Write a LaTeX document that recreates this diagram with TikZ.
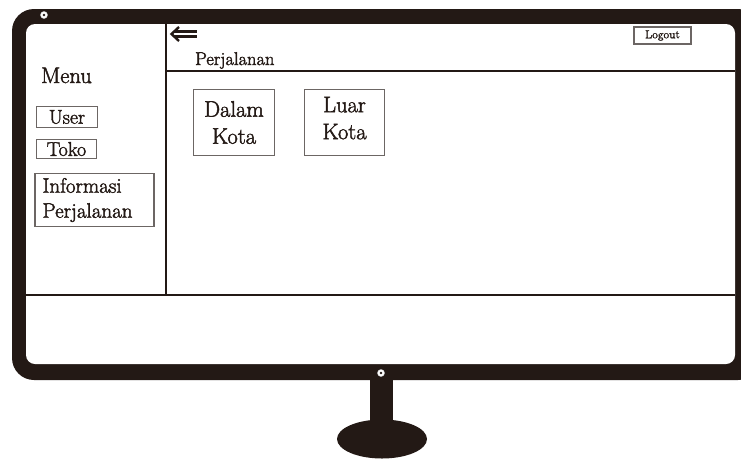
\documentclass[tikz,border=0pt]{standalone}
\usepackage{fontspec}
\setmainfont{Latin Modern Roman}[RawFeature={embolden=1.9}]
\usetikzlibrary{calc}
\definecolor{frame}{HTML}{231915}
\definecolor{boxline}{HTML}{6C6664}
\begin{document}
\begin{tikzpicture}[x=1pt,y=-1pt,
  lbl/.style={text=frame, inner sep=0pt},
  itembox/.style={draw=boxline, line width=1.3pt, text=frame, inner sep=0pt, align=center},
  panel/.style={draw=frame, line width=2pt},
  screw/.style={fill=white, draw=gray!60, line width=0.4pt},
]
\useasboundingbox (0,0) rectangle (741,459);

% monitor bezel (runs past the right edge)
\begin{scope}
  \clip (0,0) rectangle (741,459);
  \fill[frame, rounded corners=22pt] (12,9) rectangle (760,380);
  \fill[white, rounded corners=9pt] (26,24) rectangle (735,364);
\end{scope}

% stand
\fill[frame] (370,378) rectangle (393,426);
\fill[frame] (382,439) ellipse [x radius=45pt, y radius=19.5pt];

% screws
\filldraw[screw] (44,15) circle [radius=3.6pt];
\fill[frame] (44,15) circle [radius=1.3pt];
\filldraw[screw] (381,373) circle [radius=3.6pt];
\fill[frame] (381,373) circle [radius=1.3pt];

% screen layout
\coordinate (sideTop) at (166,24);
\coordinate (sideBot) at (166,295);
\coordinate (headL) at (166,71);
\coordinate (headR) at (735,71);
\coordinate (footL) at (26,295);
\coordinate (footR) at (735,295);
\draw[panel] (sideTop) -- (sideBot);
\draw[panel] (headL) -- (headR);
\draw[panel] (footL) -- (footR);

% back arrow icon
\draw[frame, line width=2.2pt] (174,31.5) -- (197,31.5) (174,36.5) -- (197,36.5);
\draw[frame, line width=2.4pt, line join=miter] (179,27) -- (171.5,34) -- (179,41);

% header
\node[lbl, font=\fontsize{18.5}{22}\selectfont, anchor=base west] (title) at (195,65) {Perjalanan};
\node[itembox, minimum width=57pt, minimum height=17pt, font=\fontsize{11.5}{13}\selectfont] (logout) at (662.5,35.5) {Logout};

% side menu
\node[lbl, font=\fontsize{22.5}{26}\selectfont, anchor=base west] (menu) at (41,83) {Menu};
\node[itembox, minimum width=61pt, minimum height=21pt, font=\fontsize{20}{24}\selectfont] (user) at (67,117) {User};
\node[itembox, minimum width=60pt, minimum height=19pt, font=\fontsize{20}{24}\selectfont] (toko) at (66.5,149) {Toko};
\node[itembox, align=left, text width=104pt, inner xsep=7.5pt, minimum height=53pt, font=\fontsize{21}{25}\selectfont] (info) at (94.5,200) {Informasi\\Perjalanan};

% content
\node[itembox, minimum width=81pt, minimum height=66pt, font=\fontsize{22.5}{27}\selectfont] (dalam) at (234,122.5) {Dalam\\Kota};
\node[itembox, minimum width=80pt, minimum height=66pt, text depth=9pt, font=\fontsize{22.5}{27}\selectfont] (luar) at (344.5,122.5) {Luar\\Kota};
\end{tikzpicture}
\end{document}
